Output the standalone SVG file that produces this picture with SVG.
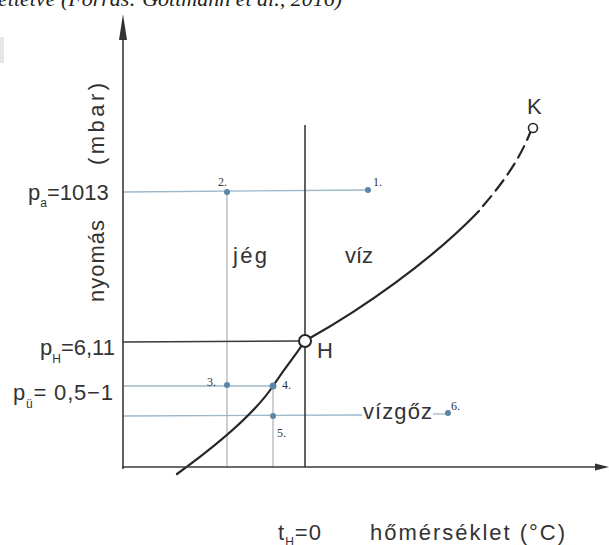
<svg xmlns="http://www.w3.org/2000/svg" width="609" height="545" viewBox="0 0 609 545">
<style>
.lbl{font-family:"Liberation Sans",Arial,sans-serif;fill:#333;font-size:22px}
.sub{font-size:12px}
.num{font-family:"Liberation Serif","Times New Roman",serif;fill:#333;font-size:12px}
.ax{stroke:#3a3a3a;stroke-width:1.6;fill:none}
.blue{stroke:#9bb8cc;stroke-width:1.3;fill:none}
.grey{stroke:#a9b0b6;stroke-width:1.2;fill:none}
.curve{stroke:#262626;stroke-width:2.2;fill:none;stroke-linecap:round}
.pt{fill:#5b86a6}
</style>
<rect width="609" height="545" fill="#fff"/>
<rect x="0" y="37" width="4" height="26" fill="#e6e6e6"/>
<text x="-2" y="6" font-family="Liberation Serif, serif" font-style="italic" font-size="22" fill="#222">ettetve (Forrás: Gottmann et al., 2016)</text>

<g id="connectors">
  <line class="blue" x1="123" y1="192" x2="368" y2="190"/>
  <line class="blue" x1="123" y1="386" x2="273" y2="386"/>
  <line class="blue" x1="123" y1="416" x2="362" y2="415"/>
  <line class="blue" x1="433" y1="414" x2="447" y2="414"/>
  <line class="grey" x1="227" y1="192" x2="227" y2="467"/>
  <line class="grey" x1="273" y1="386" x2="273" y2="467"/>
  <line class="ax" x1="305" y1="125" x2="305" y2="467"/>
  <line class="ax" x1="123" y1="342" x2="300" y2="341"/>
  <path class="curve" d="M177,474 C220,443 255,413 273,386 S296,355 302,345"/>
  <path class="curve" d="M310,338 C360,310 430,262 479,211"/>
  <path class="curve" stroke-dasharray="13,7" d="M483,206 C500,186 518,163 530,133"/>
</g>

<g id="axes">
  <line class="ax" x1="123" y1="40" x2="123" y2="469"/>
  <path d="M123,14 L127,40 L119,40 Z" fill="#333"/>
  <line class="ax" x1="122" y1="467" x2="598" y2="467"/>
  <path d="M609,467 L595,463.5 L595,470.5 Z" fill="#333"/>
</g>

<g id="points">
  <circle class="pt" cx="368" cy="190" r="3"/>
  <circle class="pt" cx="227" cy="192" r="3"/>
  <circle class="pt" cx="227" cy="385" r="3"/>
  <circle class="pt" cx="273" cy="386" r="3.5"/>
  <circle class="pt" cx="273" cy="416" r="3"/>
  <circle class="pt" cx="448" cy="413" r="3"/>
</g>

<g id="node-H">
  <circle cx="305" cy="341" r="6" fill="#fff" stroke="#262626" stroke-width="2"/>
  <text class="lbl" x="317" y="358">H</text>
</g>
<g id="node-K">
  <circle cx="533" cy="128" r="4.5" fill="#fff" stroke="#262626" stroke-width="1.6"/>
  <text class="lbl" x="527" y="114">K</text>
</g>

<g id="labels">
  <text class="lbl" x="28" y="200">p<tspan class="sub" dy="7">a</tspan><tspan dy="-7">=1013</tspan></text>
  <text class="lbl" x="40" y="355">p<tspan class="sub" dy="8">H</tspan><tspan dy="-8">=6,11</tspan></text>
  <text class="lbl" x="13" y="400" letter-spacing="0.8">p<tspan class="sub" dy="8">ü</tspan><tspan dy="-8">= 0,5−1</tspan></text>
  <text class="lbl" transform="translate(104,302) rotate(-90)" textLength="82" lengthAdjust="spacing">nyomás</text>
  <text class="lbl" transform="translate(104,165) rotate(-90)" textLength="82" lengthAdjust="spacing">(mbar)</text>
  <text class="lbl" x="233" y="263" textLength="34" lengthAdjust="spacing">jég</text>
  <text class="lbl" x="345" y="263" textLength="28" lengthAdjust="spacing">víz</text>
  <text class="lbl" x="363" y="419" textLength="69" lengthAdjust="spacing">vízgőz</text>
  <text class="lbl" x="278" y="540" letter-spacing="1">t<tspan class="sub" dy="6">H</tspan><tspan dy="-6">=0</tspan></text>
  <text class="lbl" x="370" y="540" textLength="195" lengthAdjust="spacing">hőmérséklet  (°C)</text>
  <text class="num" x="373" y="186">1.</text>
  <text class="num" x="218" y="186">2.</text>
  <text class="num" x="207" y="386">3.</text>
  <text class="num" x="282" y="389">4.</text>
  <text class="num" x="277" y="437">5.</text>
  <text class="num" x="451" y="410">6.</text>
</g>
</svg>
